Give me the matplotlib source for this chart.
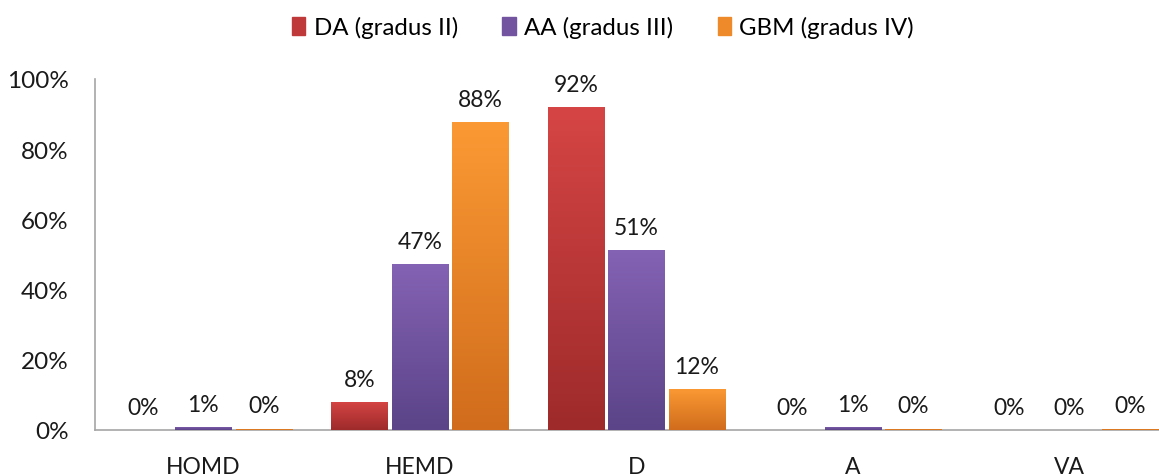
import matplotlib
matplotlib.use("Agg")
import matplotlib.pyplot as plt
import numpy as np
from matplotlib.colors import LinearSegmentedColormap

categories = ["HOMD", "HEMD", "D", "A", "VA"]
series_names = ["DA (gradus II)", "AA (gradus III)", "GBM (gradus IV)"]
da_vals = [0.0, 8.0, 92.0, 0.0, 0.0]
aa_vals = [0.9, 47.3, 51.3, 0.9, 0.0]
gbm_vals = [0.4, 87.7, 11.7, 0.4, 0.4]
yticks = [0, 20, 40, 60, 80, 100]

top_colors = ["#d64545", "#8462b4", "#fb9a34"]
bot_colors = ["#9e2a2a", "#5b4488", "#d06c1c"]
legend_colors = ["#c0393a", "#7254a0", "#ee8a2a"]

plt.rcParams['font.family'] = ['Lato', 'DejaVu Sans']

W, H = 1159, 477
fig = plt.figure(figsize=(W / 100, H / 100), dpi=100)
ax = fig.add_axes([95 / W, 1 - 431 / H, 1082.5 / W, (431 - 80) / H])

x = np.arange(len(categories))
w = 0.259
step = 0.279
all_vals = [da_vals, aa_vals, gbm_vals]
grad = np.linspace(1, 0, 256).reshape(-1, 1)
for i, vals in enumerate(all_vals):
    cmap = LinearSegmentedColormap.from_list(f"g{i}", [bot_colors[i], top_colors[i]])
    bars = ax.bar(x + (i - 1) * step, vals, width=w, color=legend_colors[i],
                  label=series_names[i], zorder=2)
    for b, v in zip(bars, vals):
        if v > 0:
            bx, by = b.get_x(), b.get_y()
            im = ax.imshow(grad, cmap=cmap, aspect='auto',
                           extent=[bx, bx + b.get_width(), by, by + b.get_height()],
                           zorder=3, interpolation='bilinear')
            im.set_clip_path(b)
        ax.text(b.get_x() + b.get_width() / 2, v + 3.5, f"{round(v):.0f}%",
                ha='center', va='bottom', fontsize=16.5, color='#1a1a1a', zorder=4)

ax.set_xlim(-0.5, len(categories) - 0.5)
ax.set_ylim(0, 100)
ax.set_yticks(yticks)
ax.set_yticklabels([f"{t}%" for t in yticks], fontsize=17.5, color='#1a1a1a')
ax.set_xticks(x)
ax.set_xticklabels(categories, fontsize=16.5, color='#1a1a1a')
ax.tick_params(axis='both', length=0)
ax.tick_params(axis='y', pad=19)
ax.tick_params(axis='x', pad=19)
for s in ['top', 'right']:
    ax.spines[s].set_visible(False)
for s in ['left', 'bottom']:
    ax.spines[s].set_color('#a6a6a6')
    ax.spines[s].set_linewidth(1.2)

handles = [plt.Rectangle((0, 0), 1, 1, color=c) for c in legend_colors]
fig.legend(handles, series_names, loc='center', bbox_to_anchor=(603 / W, 1 - 28 / H),
           ncol=3, frameon=False, fontsize=17.3, handlelength=0.55, handleheight=0.8,
           handletextpad=0.35, columnspacing=1.85)

fig.savefig("out.png", dpi=100)
